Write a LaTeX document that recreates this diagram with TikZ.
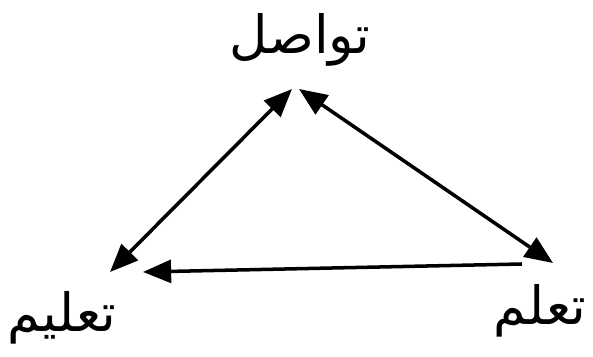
\documentclass[tikz,border=0pt]{standalone}
\usepackage{fontspec}
\newfontfamily\arabicfont[Script=Arabic]{DejaVu Sans}
\TeXXeTstate=1
\usetikzlibrary{positioning, arrows.meta, calc}

\begin{document}
\begin{tikzpicture}[
  x=1cm, y=1cm,
  % Estilos de texto
  word/.style={inner sep=0pt, font=\arabicfont\fontsize{30}{34}\selectfont},
  % Estilos de flechas
  dblarrow/.style={draw, {Triangle[length=16pt,width=13pt]}-{Triangle[length=16pt,width=13pt]}, line width=2pt},
  onearrow/.style={draw, -{Triangle[length=16pt,width=13pt]}, line width=2pt}
]
  \useasboundingbox (0,0) rectangle (11.86,7.14);

  % ==========================================
  % WORDS
  % ==========================================
  \node[word] (tawasul) at (6.00, 6.34) {\beginR تواصل\endR};
  \node[word] (talim) at (1.24, 0.78) {\beginR تعليم\endR};
  \node[word] (taallum) at (10.80, 0.92) {\beginR تعلم\endR};

  % ==========================================
  % ARROWS
  % ==========================================
  \draw[dblarrow] ([shift={(-0.16,-0.98)}]tawasul.center) -- ([shift={(0.96,0.92)}]talim.center);
  \draw[dblarrow] ([shift={(-0.02,-0.98)}]tawasul.center) -- ([shift={(0.26,0.96)}]taallum.center);
  \draw[onearrow] ([shift={(-0.36,0.94)}]taallum.center) -- ([shift={(1.62,0.92)}]talim.center);

\end{tikzpicture}
\end{document}
